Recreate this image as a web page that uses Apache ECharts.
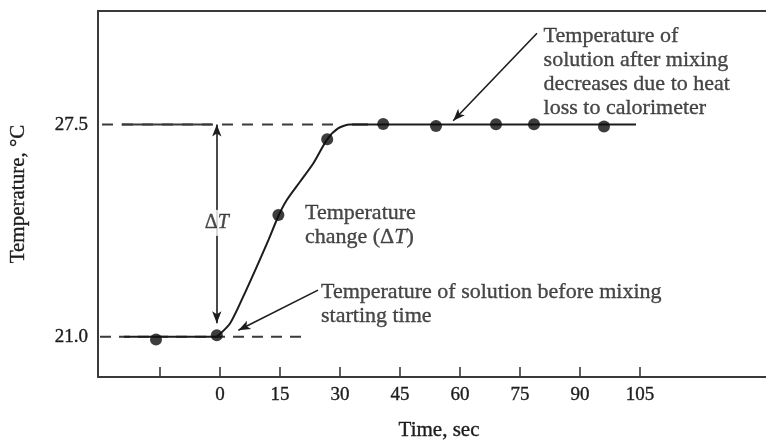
<!DOCTYPE html>
<html><head><meta charset="utf-8">
<script src="https://cdn.jsdelivr.net/npm/echarts@6/dist/echarts.min.js"></script>
<style>html,body{margin:0;padding:0;background:#fff}#c{width:766px;height:440px}</style>
</head><body><div id="c"></div>
<script>
// ---- data ----
const xTickValues = [-15, 0, 15, 30, 45, 60, 75, 90, 105];
const xLabelValues = [0, 15, 30, 45, 60, 75, 90, 105];
const yLabelValues = [21.0, 27.5];
const initialTemp = 21.0;
const finalTemp = 27.5;
const measuredTimes = [-16, -0.8, 14.6, 26.8, 40.8, 54, 69, 78.5, 96];
const measuredTemps = [20.92, 21.05, 24.73, 27.05, 27.52, 27.46, 27.51, 27.51, 27.44];
const riseTimes = [-0.8, 2.5, 5.8, 9.2, 12.1, 14.6, 16.7, 20, 23.3, 26.8, 29.6, 32.5, 37];
const riseTemps = [21.0, 21.41, 22.23, 23.15, 23.96, 24.70, 25.19, 25.75, 26.31, 27.05, 27.39, 27.5, 27.5];
const preMixTimes = [-24, -0.8];
const postMixTimes = [33, 104];

const FONT = 'Liberation Serif';
const INK = '#1c1c1c';
const FRAME = '#3a3a3a';
const pair = (ts, vs) => ts.map((t, i) => [t, vs[i]]);
const flat = (ts, v) => ts.map(t => [t, v]);
const thick = {textBorderColor: INK, textBorderWidth: 0.35};

const chart = echarts.init(document.getElementById('c'), null, {renderer: 'canvas'});
const lineBase = {type: 'line', symbol: 'none', silent: true, z: 3};
const frameLine = {show: true, onZero: false, lineStyle: {color: FRAME, width: 2}};

chart.setOption({
  animation: false,
  backgroundColor: '#fff',
  grid: {left: 98, top: 11, width: 682, height: 366, outerBoundsMode: 'none', containLabel: false, show: false},
  xAxis: [{
    type: 'value', min: -30.5, max: 140, position: 'bottom',
    name: 'Time, sec', nameLocation: 'middle', nameGap: 43,
    nameTextStyle: Object.assign({fontFamily: FONT, fontSize: 21, color: INK}, thick),
    axisLine: frameLine,
    splitLine: {show: false},
    axisTick: {show: true, inside: true, length: 10, customValues: xTickValues, lineStyle: {color: FRAME, width: 1.6}},
    axisLabel: Object.assign({customValues: xLabelValues, margin: 9, fontFamily: FONT, fontSize: 19, color: INK}, thick)
  }, {
    type: 'value', min: -30.5, max: 140, position: 'top',
    axisLine: frameLine, axisTick: {show: false}, axisLabel: {show: false}, splitLine: {show: false}
  }],
  yAxis: {
    type: 'value', min: 19.77, max: 30.98,
    name: 'Temperature, °C', nameLocation: 'middle', nameGap: 69,
    nameTextStyle: Object.assign({fontFamily: FONT, fontSize: 21, color: INK}, thick),
    axisLine: frameLine,
    splitLine: {show: false},
    axisTick: {show: false},
    axisLabel: Object.assign({customValues: yLabelValues, margin: 10, fontFamily: FONT, fontSize: 19, color: INK,
      formatter: v => Number(v).toFixed(1)}, thick)
  },
  series: [
    Object.assign({}, lineBase, {name: 'dash-final', data: flat([-29.5, 28.25], finalTemp),
      lineStyle: {color: FRAME, width: 2, type: [11, 9]}}),
    Object.assign({}, lineBase, {name: 'dash-initial', data: flat([-30, 20.5], initialTemp),
      lineStyle: {color: FRAME, width: 2, type: [11, 8]}}),
    Object.assign({}, lineBase, {name: 'solid-final', data: flat([-24.6, -2.1], finalTemp),
      lineStyle: {color: FRAME, width: 2},
      markLine: {silent: true, symbol: ['arrow', 'arrow'], symbolSize: [7, 12],
        lineStyle: {color: INK, width: 1.6, type: 'solid'}, label: {show: false},
        data: [[{coord: [-0.8, finalTemp]}, {coord: [-0.8, 21.42]}]]}}),
    Object.assign({}, lineBase, {name: 'pre', data: flat(preMixTimes, initialTemp),
      lineStyle: {color: INK, width: 2}}),
    Object.assign({}, lineBase, {name: 'rise', data: pair(riseTimes, riseTemps), smooth: 0.25,
      lineStyle: {color: INK, width: 2}}),
    Object.assign({}, lineBase, {name: 'post', data: flat(postMixTimes, finalTemp),
      lineStyle: {color: INK, width: 2},
      markLine: {silent: true, symbol: ['none', 'arrow'], symbolSize: [7, 12],
        lineStyle: {color: INK, width: 1.6, type: 'solid'}, label: {show: false},
        data: [
          [{coord: [79.25, 30.3]}, {coord: [58.3, 27.62]}],
          [{coord: [24.5, 22.43]}, {coord: [4.6, 21.2]}]
        ]}}),
    {type: 'scatter', name: 'measured', data: pair(measuredTimes, measuredTemps), symbol: 'circle', symbolSize: 12,
      itemStyle: {color: '#0d0d0d'}, silent: true, z: 5},
    {type: 'scatter', name: 'notes', symbolSize: 0, silent: true, z: 6,
      label: Object.assign({show: true, position: 'right', distance: 0, fontFamily: FONT, fontSize: 22, lineHeight: 24, color: INK,
        formatter: p => p.data[2],
        rich: {i: Object.assign({fontFamily: FONT, fontSize: 22, fontStyle: 'italic', color: INK}, thick)}}, thick),
      data: [
        [21.25, 24.41, 'Temperature\nchange (Δ{i|T})'],
        [25.25, 21.99, 'Temperature of solution before mixing\nstarting time'],
        [80.9, 29.12, 'Temperature of\nsolution after mixing\ndecreases due to heat\nloss to calorimeter']
      ]},
    {type: 'scatter', name: 'delta', symbolSize: 0, silent: true, z: 6,
      label: Object.assign({show: true, position: 'inside', fontFamily: FONT, fontSize: 20, color: INK,
        backgroundColor: '#fff', padding: [3, 1],
        formatter: 'Δ{i|T}', rich: {i: Object.assign({fontFamily: FONT, fontSize: 20, fontStyle: 'italic', color: INK}, thick)}}, thick),
      data: [[-0.8, 24.49]]}
  ]
});
</script></body></html>
